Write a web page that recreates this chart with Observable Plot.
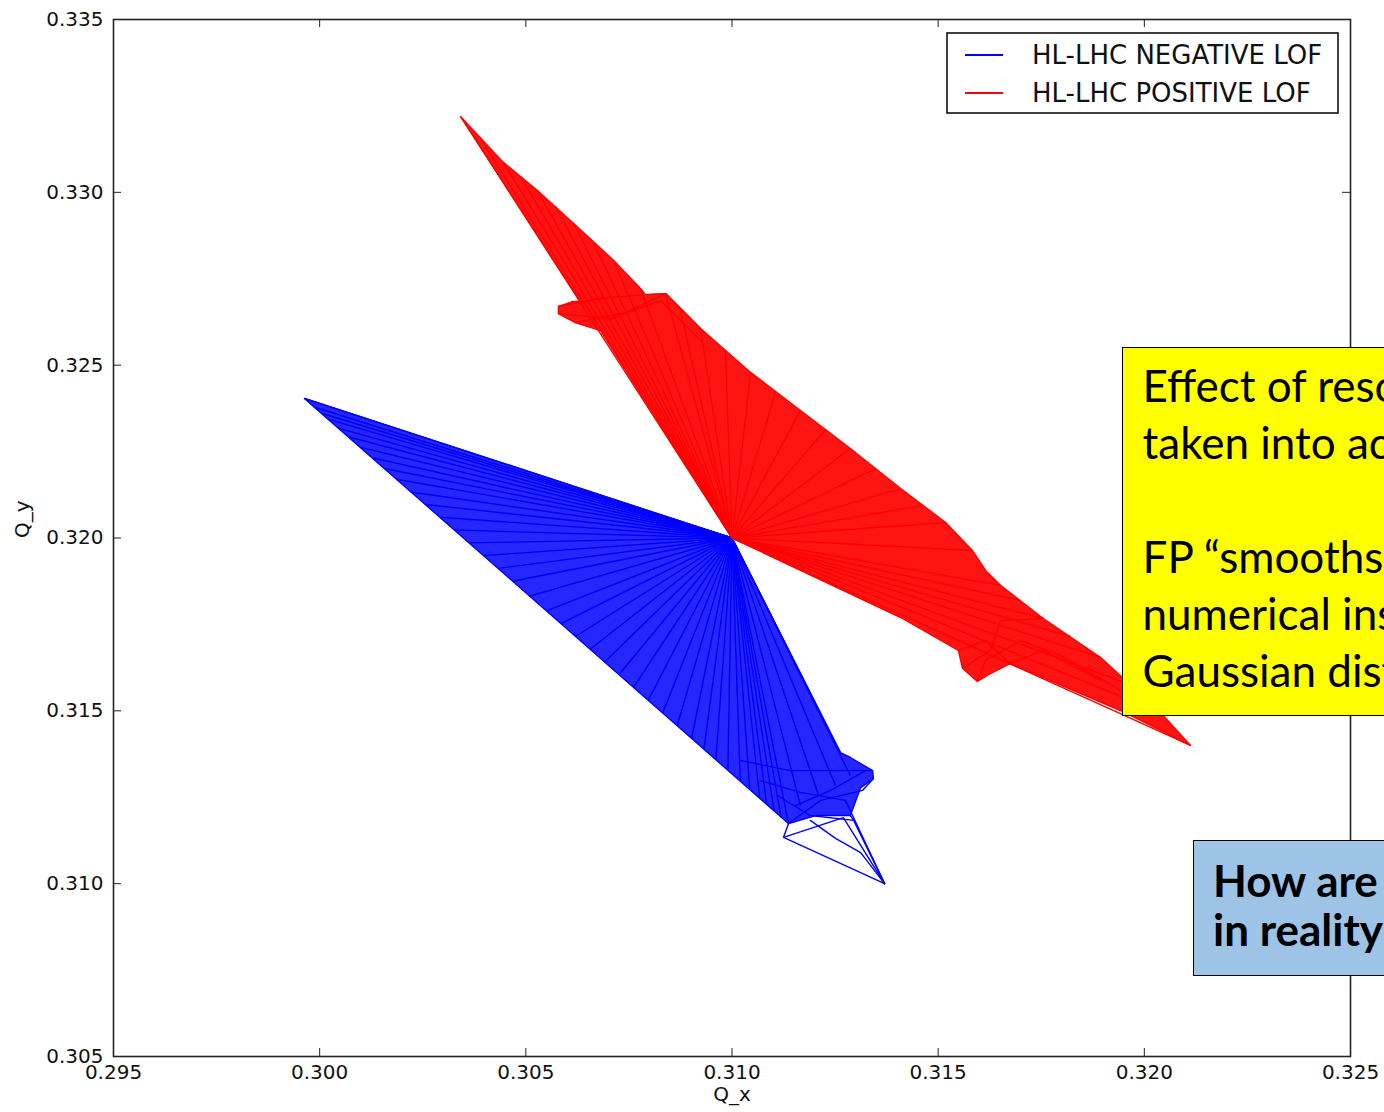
<!DOCTYPE html>
<html>
<head>
<meta charset="utf-8">
<script src="https://cdn.jsdelivr.net/npm/d3@7"></script>
<script src="https://cdn.jsdelivr.net/npm/@observablehq/plot@0.6"></script>
<style>
  html, body { margin: 0; padding: 0; background: #fff; overflow: hidden; }
  #wrap { position: relative; width: 1384px; height: 1112px; overflow: hidden; }
  .note { position: absolute; box-sizing: border-box; border: 1.5px solid #000; white-space: pre; color: #000; }
  .note.yellow { left: 1122px; top: 347px; width: 420px; height: 369px; background: #ffff00;
    padding: 9px 0 0 19.5px; font: 44px/57px Lato, "Open Sans", sans-serif; }
  .note.sky { left: 1193px; top: 840px; width: 420px; height: 136px; background: #9dc3e6;
    padding: 15px 0 0 19px; font: 700 44px/49px Lato, "Open Sans", sans-serif; }
</style>
</head>
<body>
<div id="wrap">
  <div id="chart"></div>
  <div class="note yellow"></div>
  <div class="note sky"></div>
</div>
<script>
// Tune footprints (Q_x, Q_y) for the two Landau octupole polarities.
const series = ["HL-LHC NEGATIVE LOF", "HL-LHC POSITIVE LOF"];
const seriesColors = ["#0000ff", "#ff0000"];
const xTicks = [0.295, 0.300, 0.305, 0.310, 0.315, 0.320, 0.325];
const yTicks = [0.305, 0.310, 0.315, 0.320, 0.325, 0.330, 0.335];
const xLabel = "Q_x";
const yLabel = "Q_y";

// zero-amplitude working point shared by both footprints
const origin = [0.3100, 0.3200];

// negative LOF: outline of the dense mesh
const blueOutlineQx = [0.3100, 0.29963, 0.31137, 0.31203, 0.31287, 0.31312, 0.31343, 0.31341, 0.31287, 0.31263, 0.3100];
const blueOutlineQy = [0.3200, 0.32404, 0.31174, 0.31197, 0.31197, 0.31278, 0.31304, 0.31327, 0.31365, 0.31379, 0.3200];
// negative LOF: outer ends of the constant-angle lines
const blueRayQx = [0.29963, 0.29986, 0.30004, 0.30022, 0.30045, 0.30069, 0.30098, 0.30127, 0.30157, 0.30186,
  0.30221, 0.30257, 0.30292, 0.30327, 0.30362, 0.30397, 0.30433, 0.30468, 0.30509, 0.30550,
  0.30585, 0.30620, 0.30656, 0.30691, 0.30726, 0.30761, 0.30797, 0.30832, 0.30867, 0.30902,
  0.30932, 0.30961, 0.30990, 0.31020, 0.31043, 0.31067, 0.31084, 0.31102, 0.31119, 0.31137,
  0.31166, 0.31210, 0.31251, 0.31287, 0.31263, 0.31222];
const blueRayQy = [0.32404, 0.32379, 0.32361, 0.32343, 0.32318, 0.32293, 0.32263, 0.32232, 0.32201, 0.32170,
  0.32133, 0.32097, 0.32060, 0.32023, 0.31986, 0.31949, 0.31912, 0.31875, 0.31832, 0.31789,
  0.31752, 0.31715, 0.31678, 0.31641, 0.31605, 0.31568, 0.31531, 0.31494, 0.31457, 0.31420,
  0.31389, 0.31359, 0.31328, 0.31297, 0.31272, 0.31248, 0.31229, 0.31211, 0.31192, 0.31174,
  0.31226, 0.31255, 0.31284, 0.31313, 0.31379, 0.31472];
// negative LOF: large-amplitude tail near the resonance
const blueTails = [
  [[0.31137, 0.31174], [0.31125, 0.31134], [0.31370, 0.31000]],
  [[0.31125, 0.31134], [0.31270, 0.31191], [0.31370, 0.31000]],
  [[0.31190, 0.31183], [0.31251, 0.31131], [0.31312, 0.31090], [0.31370, 0.31000]],
  [[0.31287, 0.31197], [0.31295, 0.31183], [0.31370, 0.31000]],
  [[0.31137, 0.31174], [0.31215, 0.31241], [0.31317, 0.31270], [0.31343, 0.31304]],
  [[0.31110, 0.31255], [0.31190, 0.31197], [0.31295, 0.31183]],
  [[0.31154, 0.31226], [0.31239, 0.31270], [0.31324, 0.31327]],
  [[0.31069, 0.31298], [0.31166, 0.31264], [0.31275, 0.31241], [0.31370, 0.31000]],
  [[0.31021, 0.31356], [0.31142, 0.31327], [0.31263, 0.31327], [0.31341, 0.31327]]
];

// positive LOF: outline of the dense mesh
const redOutlineQx = [0.3100, 0.30681, 0.30620, 0.30579, 0.30579, 0.30613, 0.30633, 0.30342, 0.30446, 0.30528, 0.30616, 0.30713, 0.30778, 0.30790, 0.30839, 0.30924, 0.31045, 0.31166, 0.31287, 0.31409, 0.31518, 0.31583, 0.31615, 0.31651, 0.31755, 0.31894, 0.32039, 0.32112, 0.31942, 0.31675, 0.31627, 0.31595, 0.31559, 0.31549, 0.31409, 0.3100];
const redOutlineQy = [0.3200, 0.32600, 0.32623, 0.32649, 0.32670, 0.32684, 0.32684, 0.33219, 0.33086, 0.33005, 0.32910, 0.32803, 0.32722, 0.32704, 0.32707, 0.32606, 0.32479, 0.32369, 0.32259, 0.32143, 0.32045, 0.31964, 0.31906, 0.31863, 0.31767, 0.31654, 0.31495, 0.31400, 0.31501, 0.31637, 0.31608, 0.31585, 0.31623, 0.31675, 0.31770, 0.3200];
// positive LOF: outer ends of the constant-angle lines
const redRayQx = [0.30342, 0.30390, 0.30446, 0.30487, 0.30528, 0.30572, 0.30616, 0.30664, 0.30713, 0.30778, 0.30839, 0.30875, 0.30924, 0.30984, 0.31045, 0.31106, 0.31166, 0.31227, 0.31287, 0.31348, 0.31409, 0.31462, 0.31518, 0.31583, 0.31651, 0.31700, 0.31755, 0.31821, 0.31894, 0.31966, 0.32039, 0.32112];
const redRayQy = [0.33219, 0.33156, 0.33086, 0.33046, 0.33005, 0.32959, 0.32910, 0.32855, 0.32803, 0.32722, 0.32707, 0.32658, 0.32606, 0.32542, 0.32479, 0.32424, 0.32369, 0.32314, 0.32259, 0.32201, 0.32143, 0.32094, 0.32045, 0.31964, 0.31863, 0.31819, 0.31767, 0.31715, 0.31654, 0.31576, 0.31495, 0.31400];
// positive LOF: irregular folds of the mesh
const redTails = [
  [[0.30579, 0.32670], [0.30681, 0.32693], [0.30790, 0.32704], [0.30839, 0.32707], [0.30899, 0.32635]],
  [[0.30579, 0.32649], [0.30705, 0.32635], [0.30827, 0.32687], [0.30924, 0.32571]],
  [[0.30620, 0.32623], [0.30742, 0.32652], [0.30839, 0.32707]],
  [[0.31549, 0.31675], [0.31615, 0.31703], [0.31675, 0.31637], [0.31755, 0.31675], [0.31894, 0.31588]],
  [[0.31559, 0.31623], [0.31627, 0.31675], [0.31651, 0.31761], [0.31755, 0.31767]],
  [[0.31595, 0.31585], [0.31615, 0.31646], [0.31700, 0.31703], [0.31797, 0.31660], [0.31942, 0.31559]]
];

// annotation boxes laid over the right edge of the figure
const yellowNote = ["Effect of resonances not", "taken into account", "", "FP \u201csmooths\u201d the", "numerical instabilities for", "Gaussian distributions"];
const skyNote = ["How are things", "in reality?"];

// ---- build tables for the marks ----
const zip = (qx, qy) => qx.map((x, i) => ({qx: x, qy: qy[i]}));
const flatten = (lines) => lines.flatMap((line, id) => line.map(([qx, qy]) => ({id, qx, qy})));

const blueOutline = zip(blueOutlineQx, blueOutlineQy);
const blueRays = zip(blueRayQx, blueRayQy);
const blueTailPts = flatten(blueTails);
const redOutline = zip(redOutlineQx, redOutlineQy);
const redRays = zip(redRayQx, redRayQy);
const redTailPts = flatten(redTails);

const lw = 1.4;
const footprintMarks = (outline, rays, tails, color, fillOpacity) => [
  Plot.line(outline, {x: "qx", y: "qy", fill: color, fillOpacity, stroke: color, strokeWidth: lw}),
  Plot.link(rays, {x1: () => origin[0], y1: () => origin[1], x2: "qx", y2: "qy", stroke: color, strokeWidth: lw}),
  Plot.line(tails, {x: "qx", y: "qy", z: "id", stroke: color, strokeWidth: lw})
];

const W = 1384, H = 1112;
const M = {top: 19, right: 34, bottom: 56, left: 113};
const innerW = W - M.left - M.right, innerH = H - M.top - M.bottom;
const tickLen = 8;
const fmt = d3.format(".3f");

const chart = Plot.plot({
  width: W, height: H,
  marginTop: M.top, marginRight: M.right, marginBottom: M.bottom, marginLeft: M.left,
  style: {fontFamily: "DejaVu Sans", fontSize: "20px", color: "#111", background: "#fff", overflow: "visible"},
  x: {domain: [xTicks[0], xTicks[xTicks.length - 1]]},
  y: {domain: [yTicks[0], yTicks[yTicks.length - 1]]},
  marks: [
    ...footprintMarks(blueOutline, blueRays, blueTailPts, seriesColors[0], 0.85),
    ...footprintMarks(redOutline, redRays, redTailPts, seriesColors[1], 0.92),
    // inward ticks on all four sides
    Plot.tickX(xTicks, {x: d => d, insetTop: innerH - tickLen, stroke: "#222", strokeWidth: 1}),
    Plot.tickX(xTicks, {x: d => d, insetBottom: innerH - tickLen, stroke: "#222", strokeWidth: 1}),
    Plot.tickY(yTicks, {y: d => d, insetRight: innerW - tickLen, stroke: "#222", strokeWidth: 1}),
    Plot.tickY(yTicks, {y: d => d, insetLeft: innerW - tickLen, stroke: "#222", strokeWidth: 1}),
    Plot.axisX({ticks: xTicks, tickFormat: fmt, tickSize: 0, tickPadding: 8, label: null}),
    Plot.axisY({ticks: yTicks, tickFormat: fmt, tickSize: 0, tickPadding: 10, label: null}),
    Plot.text([xLabel], {text: d => d, frameAnchor: "bottom", dy: 44, fill: "#111"}),
    Plot.text([yLabel], {text: d => d, frameAnchor: "left", rotate: -90, dx: -91, fill: "#111"}),
    Plot.frame({stroke: "#222", strokeWidth: 1.6})
  ]
});
document.getElementById("chart").append(chart);

// legend box in the upper right corner of the axes
const svg = d3.select(chart);
const lg = svg.append("g").attr("font-family", "DejaVu Sans").attr("font-size", 26).attr("text-anchor", "start");
lg.append("rect").attr("x", 947).attr("y", 33).attr("width", 391).attr("height", 80)
  .attr("fill", "#fff").attr("stroke", "#111").attr("stroke-width", 1.6);
series.forEach((name, i) => {
  const cy = 55 + i * 38;
  lg.append("line").attr("x1", 965).attr("x2", 1003).attr("y1", cy).attr("y2", cy)
    .attr("stroke", seriesColors[i]).attr("stroke-width", 2);
  lg.append("text").attr("x", 1032).attr("y", cy).attr("dy", "0.36em")
    .attr("text-anchor", "start").attr("fill", "#111").text(name);
});

// annotation text
const fill = (sel, lines) => {
  const el = document.querySelector(sel);
  lines.forEach(t => { const d = document.createElement("div"); d.textContent = t || "\u00a0"; el.append(d); });
};
fill(".note.yellow", yellowNote);
fill(".note.sky", skyNote);
</script>
</body>
</html>
